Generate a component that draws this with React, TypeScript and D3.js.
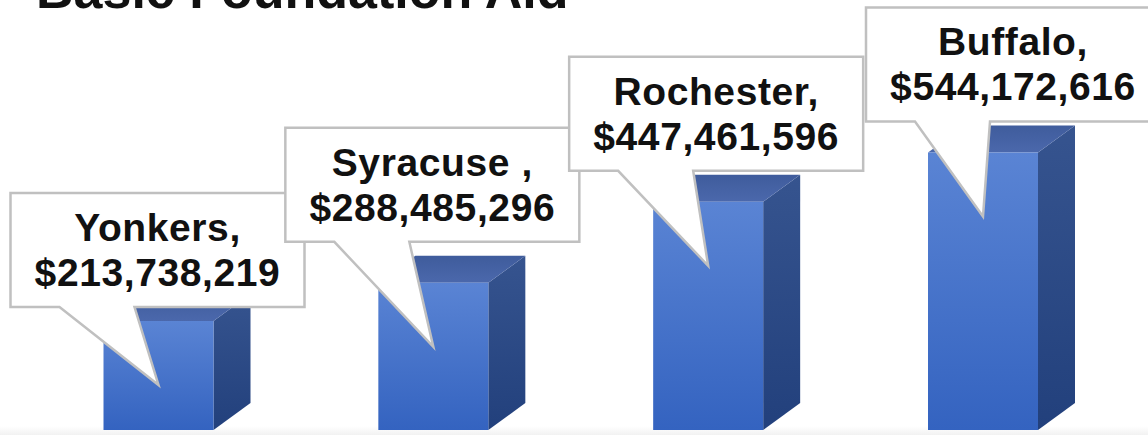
import React from "react";
import * as d3 from "d3";

const title = "Basic Foundation Aid";
const cities = ["Yonkers", "Syracuse ", "Rochester", "Buffalo"];
const aid = [213738219, 288485296, 447461596, 544172616];
// callout box placement relative to the tail tip (layout, not data)
const calloutDx = [-148, -148, -139, -117];
const calloutDy = [-192, -219, -209, -209];

const W = 1148;
const H = 435;
const BASE = 430;
const BAR_W = 110;
const DEPTH_X = 37;
const DEPTH_Y = -27;
const BOX_W = 294;
const BOX_H = 114;

export default function App() {
  const x = d3.scalePoint<string>().domain(cities).range([158.5, 983]);
  const y = d3.scaleLinear().domain([0, 600e6]).range([BASE, BASE - 306]);
  const fmt = d3.format("$,");

  const bars = cities.map((c, i) => {
    const cx = x(c) as number;
    const top = y(aid[i]);
    const l = cx - BAR_W / 2;
    const r = cx + BAR_W / 2;
    const line = d3.line();
    const front = line([[l, top], [r, top], [r, BASE], [l, BASE]]) + "Z";
    const side = line([[r, top], [r + DEPTH_X, top + DEPTH_Y], [r + DEPTH_X, BASE + DEPTH_Y], [r, BASE]]) + "Z";
    const topFace = line([[l, top], [l + DEPTH_X, top + DEPTH_Y], [r + DEPTH_X, top + DEPTH_Y], [r, top]]) + "Z";
    return { c, cx, top, front, side, topFace };
  });

  const callouts = bars.map((b, i) => {
    const tipX = b.cx;
    const tipY = b.top + 64;
    const bl = tipX + calloutDx[i];
    const bt = tipY + calloutDy[i];
    const br = bl + BOX_W;
    const bb = bt + BOX_H;
    const path = d3.line()([
      [bl, bt], [br, bt], [br, bb], [bl + 124, bb], [tipX, tipY], [bl + 49, bb], [bl, bb],
    ]) + "Z";
    return { path, cx: bl + BOX_W / 2, bt, name: cities[i], value: fmt(aid[i]) };
  });

  return (
    <svg width={W} height={H} style={{ position: "absolute", left: 0, top: 0, background: "#fff" }}>
      <defs>
        <linearGradient id="front" x1="0" y1="0" x2="0" y2="1">
          <stop offset="0" stopColor="#5a84d4" />
          <stop offset="1" stopColor="#3463c0" />
        </linearGradient>
        <linearGradient id="side" x1="0" y1="0" x2="0" y2="1">
          <stop offset="0" stopColor="#36548f" />
          <stop offset="1" stopColor="#22407c" />
        </linearGradient>
        <linearGradient id="topg" x1="0" y1="0" x2="0" y2="1">
          <stop offset="0" stopColor="#3f5c9c" />
          <stop offset="1" stopColor="#4b68ac" />
        </linearGradient>
        <linearGradient id="floor" x1="0" y1="0" x2="0" y2="1">
          <stop offset="0" stopColor="#ffffff" />
          <stop offset="1" stopColor="#f2f2f2" />
        </linearGradient>
      </defs>
      <rect x={0} y={426} width={W} height={9} fill="url(#floor)" />
      <text x={36} y={8} fontFamily="'Liberation Sans', Arial, sans-serif" fontWeight="bold" fontSize={52} fill="#111">
        {title}
      </text>
      {bars.map((b) => (
        <g key={b.c}>
          <path d={b.side} fill="url(#side)" />
          <path d={b.topFace} fill="url(#topg)" />
          <path d={b.front} fill="url(#front)" />
        </g>
      ))}
      {callouts.map((c) => (
        <g key={c.name}>
          <path d={c.path} fill="#fff" stroke="#c0c0c0" strokeWidth={2.5} strokeLinejoin="miter" />
          <text
            x={c.cx}
            textAnchor="middle"
            fontFamily="'Liberation Sans', Arial, sans-serif"
            fontWeight="bold"
            fontSize={39}
            letterSpacing={0.6}
            fill="#111"
            style={{ whiteSpace: "pre" }}
          >
            <tspan x={c.cx} y={c.bt + 48}>{c.name + ","}</tspan>
            <tspan x={c.cx} y={c.bt + 93}>{c.value}</tspan>
          </text>
        </g>
      ))}
    </svg>
  );
}
